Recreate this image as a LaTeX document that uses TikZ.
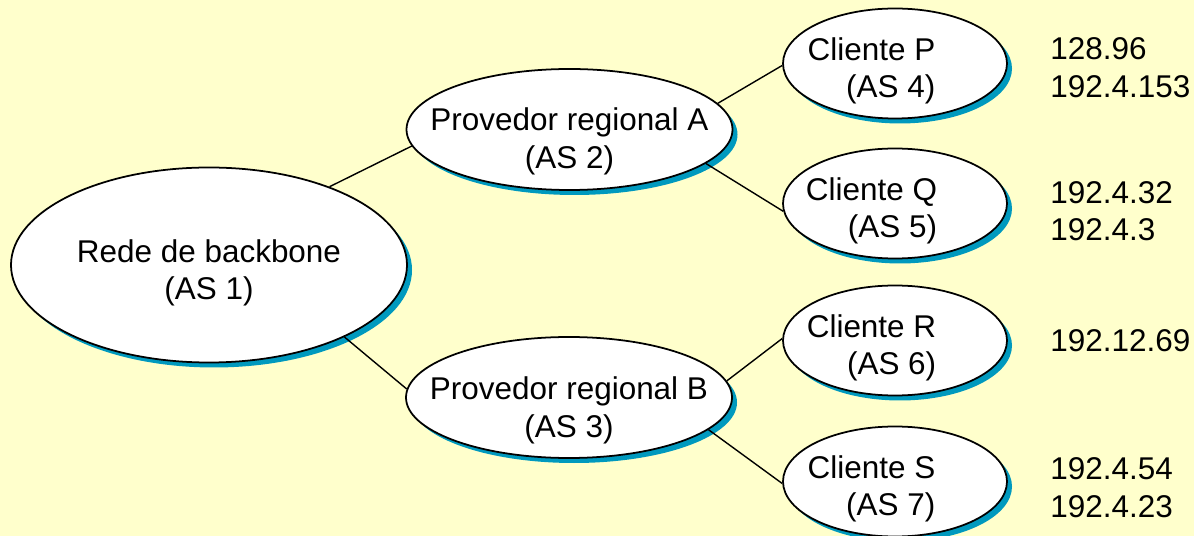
\documentclass[tikz,border=0pt]{standalone}
\usepackage{fontspec}
\setmainfont{Liberation Sans}
\usepackage{tikz}
\usetikzlibrary{positioning, shapes, shapes.geometric, shadows}

\definecolor{paper}{RGB}{255,255,204}
\definecolor{asteal}{RGB}{0,153,190}
\newcommand{\asfont}{\fontsize{17.9pt}{21.3pt}\selectfont}

\begin{document}
\begin{tikzpicture}[every node/.style={font=\asfont},
    asnode/.style={draw, ellipse, line width=1pt, fill=white, inner sep=0pt,
        drop shadow={shadow xshift=0.1cm, shadow yshift=-0.1cm, fill=asteal, opacity=1}},
    bignode/.style={asnode, minimum width=7.92cm, minimum height=3.9cm},
    provnode/.style={asnode, minimum width=6.52cm, minimum height=2.42cm},
    clinode/.style={asnode, minimum width=4.48cm, minimum height=2.2cm},
    astext/.style={align=center, inner sep=0pt},
    clitext/.style={align=right, inner sep=0pt},
    iptext/.style={align=left, anchor=west, inner sep=0pt},
    link/.style={line width=0.8pt}]

        % Background
        \fill[paper] (0,0) rectangle (23.88,-10.72);
        \useasboundingbox (0,0) rectangle (23.88,-10.72);

        % Backbone and regional providers
        \node[bignode] (bb) at (4.18,-5.30) {};
        \node[provnode] (pa) at (11.39,-2.59) {};
        \node[provnode] (pb) at (11.38,-7.95) {};

        % Clients
        \node[clinode] (cp) at (17.9,-1.27) {};
        \node[clinode] (cq) at (17.9,-4.07) {};
        \node[clinode] (cr) at (17.9,-6.81) {};
        \node[clinode] (cs) at (17.9,-9.63) {};

        % Links
        \draw[link] (bb.33) -- (pa.186);
        \draw[link] (bb.-28) -- (pb.177);
        \draw[link] (pa.10) -- (cp.181);
        \draw[link] (pa.-14) -- (cq.184);
        \draw[link] (pb.6) -- (cr.179);
        \draw[link] (pb.-13) -- (cs.181);

        % Texts inside the ellipses
        \node[astext] (bbt) at ([yshift=-0.16cm]bb.center) {Rede de backbone\\(AS 1)};
        \node[astext] (pat) at ([yshift=-0.24cm]pa.center) {Provedor regional A\\(AS 2)};
        \node[astext] (pbt) at ([yshift=-0.26cm]pb.center) {Provedor regional B\\(AS 3)};
        \node[clitext] (cpt) at ([xshift=-0.47cm, yshift=-0.15cm]cp.center) {Cliente P\\(AS 4)};
        \node[clitext] (cqt) at ([xshift=-0.47cm, yshift=-0.15cm]cq.center) {Cliente Q\\(AS 5)};
        \node[clitext] (crt) at ([xshift=-0.47cm, yshift=-0.15cm]cr.center) {Cliente R\\(AS 6)};
        \node[clitext] (cst) at ([xshift=-0.47cm, yshift=-0.15cm]cs.center) {Cliente S\\(AS 7)};

        % Network numbers
        \node[iptext] (ipp) at (21.0,-1.35) {128.96\\192.4.153};
        \node[iptext] (ipq) at (21.0,-4.22) {192.4.32\\192.4.3};
        \node[iptext] (ipr) at (21.0,-6.82) {192.12.69};
        \node[iptext] (ips) at (21.0,-9.75) {192.4.54\\192.4.23};

\end{tikzpicture}
\end{document}
